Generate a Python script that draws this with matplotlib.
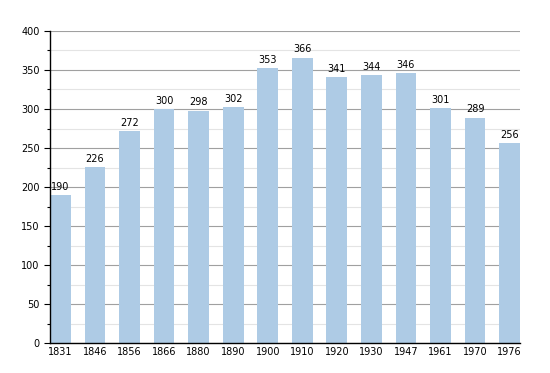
import matplotlib
matplotlib.use('Agg')
import matplotlib.pyplot as plt
import numpy as np

years = ['1831', '1846', '1856', '1866', '1880', '1890', '1900', '1910',
         '1920', '1930', '1947', '1961', '1970', '1976']
population = [190, 226, 272, 300, 298, 302, 353, 366, 341, 344, 346, 301, 289, 256]

fig = plt.figure(figsize=(5.5, 3.73), dpi=100)
ax = fig.add_axes([0.0909, 0.0804, 0.8545, 0.8365])

x = np.arange(len(years))
ax.bar(x, population, width=0.6, color='#aecbe5', zorder=3)

for xi, v in zip(x, population):
    ax.text(xi, v + 4, str(v), ha='center', va='bottom', fontsize=7, zorder=4)

ax.set_xlim(-0.3, len(years) - 0.7)
ax.set_ylim(0, 400)
ax.set_xticks(x)
ax.set_xticklabels(years, fontsize=7)
ax.set_yticks(np.arange(0, 401, 50))
ax.set_yticks(np.arange(25, 400, 50), minor=True)
ax.tick_params(axis='y', labelsize=7, length=4, width=0.8)
ax.tick_params(axis='y', which='minor', length=2, width=0.8)
ax.tick_params(axis='x', length=0, pad=3)

ax.grid(axis='y', which='major', color='#a0a0a0', linewidth=0.8, zorder=1)
ax.grid(axis='y', which='minor', color='#e4e4e4', linewidth=0.8, zorder=1)

for s in ['top', 'right']:
    ax.spines[s].set_visible(False)
for s in ['left', 'bottom']:
    ax.spines[s].set_color('black')
    ax.spines[s].set_linewidth(1)
    ax.spines[s].set_zorder(5)

fig.savefig('out.png', dpi=100)
